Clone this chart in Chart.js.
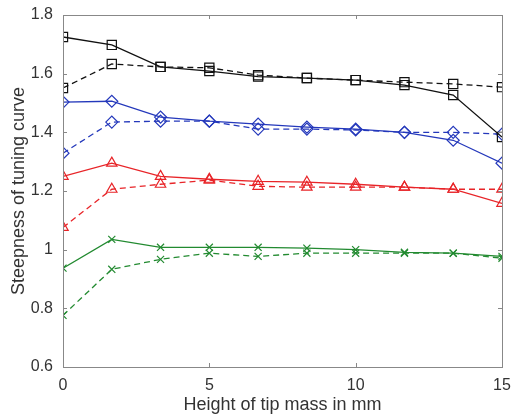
<!DOCTYPE html>
<html><head><meta charset="utf-8">
<script src="https://cdn.jsdelivr.net/npm/chart.js@4"></script>
<style>html,body{margin:0;padding:0;background:#fff}#w{width:513px;height:416px}</style>
</head><body><div id="w"><canvas id="c"></canvas></div>
<script>
const heights = [0, 1.667, 3.333, 5, 6.667, 8.333, 10, 11.667, 13.333, 15];
const blackSolid  = [1.725, 1.698, 1.623, 1.609, 1.590, 1.585, 1.578, 1.561, 1.527, 1.384];
const blackDashed = [1.551, 1.633, 1.623, 1.620, 1.595, 1.585, 1.578, 1.571, 1.565, 1.554];
const blueSolid   = [1.503, 1.506, 1.452, 1.438, 1.428, 1.418, 1.411, 1.400, 1.373, 1.295];
const blueDashed  = [1.329, 1.435, 1.438, 1.438, 1.411, 1.411, 1.408, 1.400, 1.400, 1.394];
const redSolid    = [1.250, 1.295, 1.250, 1.240, 1.233, 1.230, 1.223, 1.213, 1.206, 1.158];
const redDashed   = [1.076, 1.206, 1.223, 1.237, 1.216, 1.213, 1.213, 1.213, 1.206, 1.206];
const greenSolid  = [0.937, 1.035, 1.008, 1.008, 1.008, 1.005, 1.000, 0.991, 0.988, 0.977];
const greenDashed = [0.776, 0.933, 0.967, 0.988, 0.977, 0.988, 0.988, 0.988, 0.988, 0.971];
const xTicks = [0, 5, 10, 15];
const yTicks = [0.6, 0.8, 1, 1.2, 1.4, 1.6, 1.8];

const BLACK = '#111111', BLUE = '#2438bb', RED = '#e82428', GREEN = '#228a30';
function ds(vals, color, dashed, style, r) {
  return {
    data: heights.map((h, i) => ({x: h, y: vals[i]})),
    borderColor: color, borderWidth: 1.3,
    borderDash: dashed ? [6, 4] : [],
    pointStyle: style, pointRadius: r,
    pointBorderColor: color, pointBackgroundColor: 'rgba(0,0,0,0)', pointBorderWidth: 1.2,
    tension: 0, fill: false
  };
}
const frame = {
  id: 'frame',
  afterDraw(chart) {
    const {ctx, chartArea: a, scales} = chart;
    ctx.save();
    ctx.strokeStyle = '#888'; ctx.lineWidth = 1;
    ctx.strokeRect(a.left + 0.5, a.top + 0.5, a.right - a.left, a.bottom - a.top);
    ctx.beginPath();
    xTicks.forEach(t => {
      const px = Math.round(scales.x.getPixelForValue(t)) + 0.5;
      ctx.moveTo(px, a.bottom); ctx.lineTo(px, a.bottom - 4);
      ctx.moveTo(px, a.top); ctx.lineTo(px, a.top + 4);
    });
    yTicks.forEach(t => {
      const py = Math.round(scales.y.getPixelForValue(t)) + 0.5;
      ctx.moveTo(a.left, py); ctx.lineTo(a.left + 4, py);
      ctx.moveTo(a.right, py); ctx.lineTo(a.right - 4, py);
    });
    ctx.stroke();
    ctx.restore();
  }
};
const FONT = 'Liberation Sans';
new Chart(document.getElementById('c'), {
  type: 'line',
  data: { datasets: [
    ds(blackSolid, BLACK, false, 'rect', 6.5), ds(blackDashed, BLACK, true, 'rect', 6.5),
    ds(blueSolid, BLUE, false, 'rectRot', 6), ds(blueDashed, BLUE, true, 'rectRot', 6),
    ds(redSolid, RED, false, 'triangle', 6), ds(redDashed, RED, true, 'triangle', 6),
    ds(greenSolid, GREEN, false, 'crossRot', 5), ds(greenDashed, GREEN, true, 'crossRot', 5)
  ]},
  options: {
    responsive: true, maintainAspectRatio: false, animation: false,
    layout: { padding: { left: 8, right: 11, top: 15, bottom: 0 } },
    plugins: { legend: { display: false }, tooltip: { enabled: false } },
    scales: {
      x: {
        type: 'linear', min: 0, max: 15,
        afterBuildTicks: s => { s.ticks = xTicks.map(v => ({value: v})); },
        afterFit: s => { s.height = 49; },
        grid: { display: false }, border: { display: false },
        ticks: { color: '#333', font: { family: FONT, size: 16 }, padding: 1, maxRotation: 0 },
        title: { display: true, text: 'Height of tip mass in mm', color: '#333',
                 font: { family: FONT, size: 18 }, padding: { top: 0, bottom: 0 } }
      },
      y: {
        min: 0.6, max: 1.8,
        afterBuildTicks: s => { s.ticks = yTicks.map(v => ({value: v})); },
        afterFit: s => { s.width = 55; },
        grid: { display: false }, border: { display: false },
        ticks: { color: '#333', font: { family: FONT, size: 16 }, padding: 2,
                 callback: v => String(v) },
        title: { display: true, text: 'Steepness of tuning curve', color: '#333',
                 font: { family: FONT, size: 18 }, padding: { top: 0, bottom: 0 } }
      }
    }
  },
  plugins: [frame]
});
</script></body></html>
